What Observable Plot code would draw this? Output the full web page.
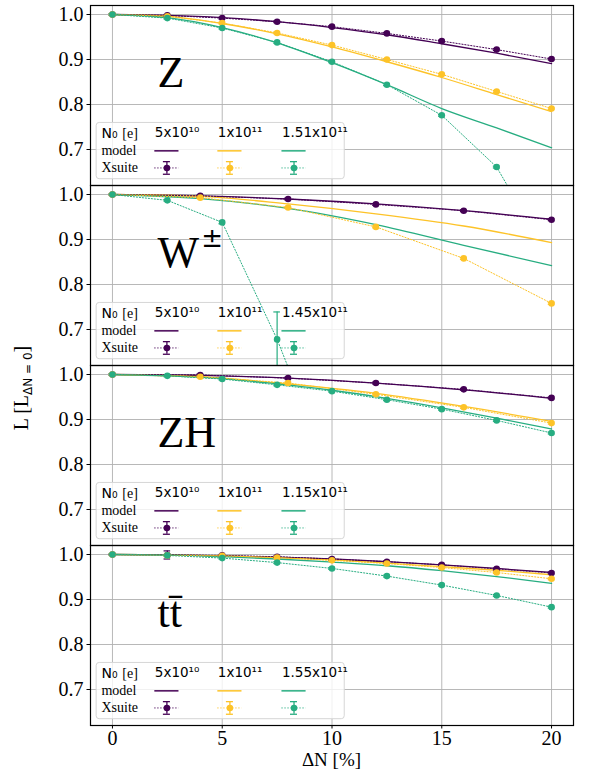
<!DOCTYPE html>
<html><head><meta charset="utf-8">
<script src="https://cdn.jsdelivr.net/npm/d3@7"></script>
<script src="https://cdn.jsdelivr.net/npm/@observablehq/plot@0.6"></script>
<style>body{margin:0;background:#fff}</style>
</head><body><div id="chart"></div>
<script>
// ---------- data ----------
const panels = ["Z", "W", "ZH", "tt"];
const seriesKeys = ["s1", "s2", "s3"];
const seriesColors = ["#440154", "#fdc328", "#27ad81"];
const headerLabels = {
  Z:  ["5x10¹⁰", "1x10¹¹", "1.51x10¹¹"],
  W:  ["5x10¹⁰", "1x10¹¹", "1.45x10¹¹"],
  ZH: ["5x10¹⁰", "1x10¹¹", "1.15x10¹¹"],
  tt: ["5x10¹⁰", "1x10¹¹", "1.55x10¹¹"]
};
const xTicks = [0, 5, 10, 15, 20];
const yTicks = [0.7, 0.8, 0.9, 1.0];

const dN25 = [0, 2.5, 5, 7.5, 10, 12.5, 15, 17.5, 20];
const dN4 = [0, 4, 8, 12, 16, 20];
const dNWgreen = [0, 2.5, 5, 7.5, 10];

// Z
const Z_model_s1 = [1.000, 0.998, 0.993, 0.984, 0.971, 0.955, 0.935, 0.914, 0.891];
const Z_model_s2 = [1.000, 0.996, 0.980, 0.957, 0.928, 0.895, 0.860, 0.822, 0.784];
const Z_model_s3 = [1.000, 0.993, 0.971, 0.937, 0.893, 0.844, 0.791, 0.748, 0.704];
const Z_xs_s1 = [1.000, 0.998, 0.992, 0.984, 0.973, 0.958, 0.941, 0.922, 0.901];
const Z_xs_s2 = [1.000, 0.996, 0.981, 0.959, 0.932, 0.900, 0.867, 0.829, 0.791];
const Z_xs_s3 = [1.000, 0.992, 0.970, 0.938, 0.895, 0.844, 0.776, 0.661, 0.450];
// W
const W_model_s1 = [1.000, 0.997, 0.990, 0.979, 0.964, 0.945];
const W_model_s2 = [1.000, 0.996, 0.979, 0.957, 0.930, 0.893];
const W_model_s3 = [1.000, 0.991, 0.969, 0.933, 0.887, 0.842];
const W_xs_s1 = [1.000, 0.997, 0.990, 0.978, 0.964, 0.944];
const W_xs_s2 = [1.000, 0.993, 0.971, 0.928, 0.858, 0.758];
const W_xs_s3 = [1.000, 0.987, 0.938, 0.678, 0.370];
const W_xs_s3_err = [0.001, 0.002, 0.003, 0.061, 0.080];
// ZH
const ZH_model_s1 = [1.000, 0.998, 0.992, 0.981, 0.966, 0.947];
const ZH_model_s2 = [1.000, 0.995, 0.979, 0.958, 0.929, 0.896];
const ZH_model_s3 = [1.000, 0.997, 0.991, 0.979, 0.965, 0.947, 0.926, 0.903, 0.879];
const ZH_xs_s1 = [1.000, 0.999, 0.992, 0.981, 0.967, 0.948];
const ZH_xs_s2 = [1.000, 0.995, 0.981, 0.956, 0.927, 0.892];
const ZH_xs_s3 = [1.000, 0.997, 0.990, 0.977, 0.963, 0.944, 0.923, 0.898, 0.870];
// ttbar
const tt_model_s1 = [1.000, 0.999, 0.997, 0.994, 0.990, 0.984, 0.977, 0.969, 0.960];
const tt_model_s2 = [1.000, 0.999, 0.997, 0.993, 0.988, 0.981, 0.973, 0.965, 0.955];
const tt_model_s3 = [1.000, 0.999, 0.995, 0.990, 0.983, 0.975, 0.964, 0.951, 0.936];
const tt_xs_s1 = [1.000, 0.999, 0.998, 0.995, 0.990, 0.984, 0.977, 0.968, 0.959];
const tt_xs_s1_err = [0.001, 0.009, 0.002, 0.002, 0.002, 0.002, 0.002, 0.002, 0.002];
const tt_xs_s2 = [1.000, 0.998, 0.997, 0.993, 0.987, 0.980, 0.971, 0.960, 0.946];
const tt_xs_s3 = [1.000, 0.998, 0.992, 0.982, 0.969, 0.952, 0.932, 0.909, 0.883];
const defaultErr = 0.002;

// ---------- tidy tables ----------
const modelRows = [], xsRows = [];
function add(rows, panel, key, xs, ys, errs) {
  xs.forEach((x, i) => rows.push({panel, key, x, y: ys[i], err: errs ? errs[i] : defaultErr}));
}
add(modelRows, "Z", "s1", dN25, Z_model_s1);
add(modelRows, "Z", "s2", dN25, Z_model_s2);
add(modelRows, "Z", "s3", dN25, Z_model_s3);
add(xsRows, "Z", "s1", dN25, Z_xs_s1);
add(xsRows, "Z", "s2", dN25, Z_xs_s2);
add(xsRows, "Z", "s3", dN25, Z_xs_s3);
add(modelRows, "W", "s1", dN4, W_model_s1);
add(modelRows, "W", "s2", dN4, W_model_s2);
add(modelRows, "W", "s3", dN4, W_model_s3);
add(xsRows, "W", "s1", dN4, W_xs_s1);
add(xsRows, "W", "s2", dN4, W_xs_s2);
add(xsRows, "W", "s3", dNWgreen, W_xs_s3, W_xs_s3_err);
add(modelRows, "ZH", "s1", dN4, ZH_model_s1);
add(modelRows, "ZH", "s2", dN4, ZH_model_s2);
add(modelRows, "ZH", "s3", dN25, ZH_model_s3);
add(xsRows, "ZH", "s1", dN4, ZH_xs_s1);
add(xsRows, "ZH", "s2", dN4, ZH_xs_s2);
add(xsRows, "ZH", "s3", dN25, ZH_xs_s3);
add(modelRows, "tt", "s1", dN25, tt_model_s1);
add(modelRows, "tt", "s2", dN25, tt_model_s2);
add(modelRows, "tt", "s3", dN25, tt_model_s3);
add(xsRows, "tt", "s1", dN25, tt_xs_s1, tt_xs_s1_err);
add(xsRows, "tt", "s2", dN25, tt_xs_s2);
add(xsRows, "tt", "s3", dN25, tt_xs_s3);

// legend tables (layout in data units of the shared scales)
const LEG = {x1: -0.72, x2: 10.58, y1: 0.634, y2: 0.759, yHead: 0.736, yModel: 0.697, yXs: 0.659, rowX: -0.5, eX: 0.45, colX: [1.93, 4.8, 7.72], colW: 1.1};
const legendBox = panels.map(panel => ({panel}));
const legendRowText = panels.flatMap(panel => [
  {panel, text: "model", y: LEG.yModel},
  {panel, text: "Xsuite", y: LEG.yXs}
]);
const legendCols = panels.flatMap(panel => seriesKeys.map((key, i) => ({panel, key, text: headerLabels[panel][i], x: LEG.colX[i]})));
const bigLabels = [
  {panel: "Z", text: "Z", font: "Liberation Serif"},
  {panel: "W", text: "W", font: "Liberation Serif"},
  {panel: "ZH", text: "ZH", font: "Liberation Serif"},
  {panel: "tt", text: "tt\u0304", font: "DejaVu Sans"}
];

const serif = "Liberation Serif, Times New Roman, serif";
const sans = "DejaVu Sans, sans-serif";

const chart = Plot.plot({
  width: 606, height: 777,
  marginLeft: 90, marginRight: 33, marginTop: 5, marginBottom: 52,
  style: {fontFamily: serif, fontSize: "20px", background: "white", color: "black"},
  x: {domain: [-1, 21]},
  y: {domain: [0.62, 1.02]},
  fy: {domain: panels, padding: 0, axis: null, label: null},
  color: {domain: seriesKeys, range: seriesColors},
  marks: [
    Plot.gridX({ticks: xTicks, stroke: "#b0b0b0", strokeOpacity: 1, strokeWidth: 0.9}),
    Plot.gridY({ticks: yTicks, stroke: "#b0b0b0", strokeOpacity: 1, strokeWidth: 0.9}),
    // legend
    Plot.rect(legendBox, {fy: "panel", x1: LEG.x1, x2: LEG.x2, y1: LEG.y1, y2: LEG.y2, fill: "white", fillOpacity: 0.8, stroke: "#d6d6d6", strokeWidth: 1, rx: 3}),
    Plot.text(legendBox, {fy: "panel", x: LEG.rowX, y: LEG.yHead, text: () => "N₀", textAnchor: "start", fontSize: 14, fontFamily: sans, fill: "black"}),
    Plot.text(legendBox, {fy: "panel", x: LEG.rowX + LEG.eX + 0.5, y: LEG.yHead, text: () => "[e]", textAnchor: "start", fontSize: 14, fontFamily: serif, fill: "black"}),
    Plot.text(legendRowText, {fy: "panel", x: LEG.rowX, y: "y", text: "text", textAnchor: "start", fontSize: 14, fontFamily: serif, fill: "black"}),
    Plot.text(legendCols, {fy: "panel", x: "x", y: LEG.yHead, text: "text", textAnchor: "start", fontSize: 13.5, fontFamily: sans, fill: "black", dy: -1}),
    Plot.ruleY(legendCols, {fy: "panel", y: LEG.yModel, x1: "x", x2: d => d.x + LEG.colW, stroke: "key", strokeWidth: 1.5}),
    Plot.ruleY(legendCols, {fy: "panel", y: LEG.yXs, x1: "x", x2: d => d.x + LEG.colW, stroke: "key", strokeWidth: 1, strokeDasharray: "1.2,1.8"}),
    Plot.ruleX(legendCols, {fy: "panel", x: d => d.x + LEG.colW / 2, y1: LEG.yXs - 0.014, y2: LEG.yXs + 0.014, stroke: "key", strokeWidth: 1.3}),
    Plot.ruleY(legendCols, {fy: "panel", y: LEG.yXs - 0.014, x1: d => d.x + LEG.colW / 2 - 0.16, x2: d => d.x + LEG.colW / 2 + 0.16, stroke: "key", strokeWidth: 1.3}),
    Plot.ruleY(legendCols, {fy: "panel", y: LEG.yXs + 0.014, x1: d => d.x + LEG.colW / 2 - 0.16, x2: d => d.x + LEG.colW / 2 + 0.16, stroke: "key", strokeWidth: 1.3}),
    Plot.dot(legendCols, {fy: "panel", x: d => d.x + LEG.colW / 2, y: LEG.yXs, fill: "key", r: 3.3}),
    // panel labels
    Plot.text(bigLabels, {fy: "panel", x: 2.05, y: 0.838, text: "text", fontFamily: "font", textAnchor: "start", lineAnchor: "bottom", fontSize: 44, fill: "black"}),
    Plot.text([{panel: "W"}], {fy: "panel", x: 4.05, y: 0.883, text: () => "±", fontFamily: sans, textAnchor: "start", lineAnchor: "bottom", fontSize: 26, fill: "black"}),
    // data
    Plot.line(modelRows, {fy: "panel", x: "x", y: "y", z: "key", stroke: "key", strokeWidth: 1.3, curve: "monotone-x", clip: true}),
    Plot.line(xsRows, {fy: "panel", x: "x", y: "y", z: "key", stroke: "key", strokeWidth: 1, strokeDasharray: "1.2,1.8", clip: true}),
    Plot.ruleX(xsRows, {fy: "panel", x: "x", y1: d => d.y - d.err, y2: d => d.y + d.err, stroke: "key", strokeWidth: 1.2, clip: true}),
    Plot.ruleY(xsRows, {fy: "panel", y: d => d.y - d.err, x1: d => d.x - 0.15, x2: d => d.x + 0.15, stroke: "key", strokeWidth: 1.2, clip: true}),
    Plot.ruleY(xsRows, {fy: "panel", y: d => d.y + d.err, x1: d => d.x - 0.15, x2: d => d.x + 0.15, stroke: "key", strokeWidth: 1.2, clip: true}),
    Plot.dot(xsRows, {fy: "panel", x: "x", y: "y", fill: "key", r: 3.3, clip: true}),
    Plot.frame({stroke: "black", strokeWidth: 1.2}),
    Plot.axisY({ticks: yTicks, tickFormat: d3.format(".1f"), tickSize: 3.5, tickPadding: 3.5, fontSize: 20, label: null}),
    Plot.axisX({ticks: xTicks, tickSize: 3.5, tickPadding: 2, fontSize: 20, label: null})
  ]
});

const svg = d3.select(chart);
svg.append("text")
  .attr("x", 331.5).attr("y", 762)
  .attr("text-anchor", "middle").attr("dominant-baseline", "middle")
  .attr("font-family", serif).attr("font-size", 19).attr("fill", "black")
  .text("ΔN [%]");
const yl = svg.append("text")
  .attr("transform", "translate(28,388) rotate(-90)")
  .attr("text-anchor", "middle")
  .attr("font-family", serif).attr("font-size", 20).attr("fill", "black");
yl.append("tspan").text("L [L");
yl.append("tspan").attr("font-family", sans).attr("font-size", 12).attr("dy", 4).text("ΔN = 0");
yl.append("tspan").attr("dy", -4).text("]");

document.getElementById("chart").appendChild(chart);
</script>
</body></html>
